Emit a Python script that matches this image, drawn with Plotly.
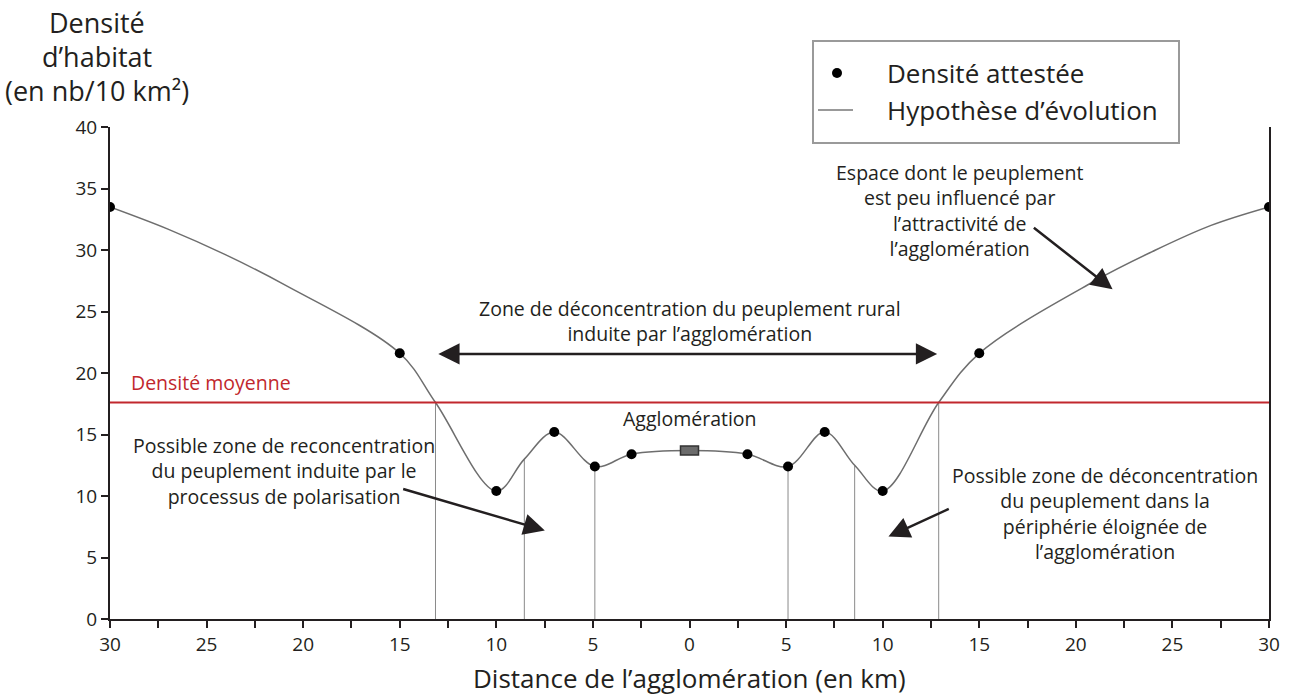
import plotly.graph_objects as go

# densite attestee (points noirs), distance a l'agglomeration en km
dist_km = [-30, -15, -10, -7, -4.9, -3, 3, 5.1, 7, 10, 15, 30]
density = [33.5, 21.6, 10.4, 15.2, 12.4, 13.4, 13.4, 12.4, 15.2, 10.4, 21.6, 33.5]

# l'agglomeration elle-meme (rectangle gris)
agglo_km = 0
agglo_density = 13.7

# limites des zones (traits verticaux depuis l'axe jusqu'a la courbe)
zone_km = [-13.15, -8.55, -4.9, 5.1, 8.55, 12.9]
zone_top = [17.6, 13.0, 12.4, 12.4, 12.5, 17.6]

hypo_km = [-27, -24, -21, 21, 24, 27]
hypo_density = [31.7, 29.6, 27.2, 27.5, 29.9, 32.0]

mean_density = 17.6

x_ticks = [-30, -25, -20, -15, -10, -5, 0, 5, 10, 15, 20, 25, 30]
x_ticktext = [str(abs(v)) for v in x_ticks]
y_ticks = [0, 5, 10, 15, 20, 25, 30, 35, 40]

INK = '#231f20'
RED = '#c1272d'
FONT = 'Open Sans'

# plot area in pixels, used to place the things that sit outside it
L, R, T, B = 110, 1269, 127, 619


def px(x):
    return (x - L) / (R - L)


def py(y):
    return (B - y) / (B - T)


# hypothese d'evolution: courbe lissee passant par tous les points lus
curve = sorted(set(zip(dist_km, density))
               | {(agglo_km, agglo_density)}
               | set(zip(zone_km, zone_top))
               | set(zip(hypo_km, hypo_density)))
curve_x = [p[0] for p in curve]
curve_y = [p[1] for p in curve]

zone_x, zone_y = [], []
for k, top in zip(zone_km, zone_top):
    zone_x += [k, k, None]
    zone_y += [0, top, None]

fig = go.Figure()

fig.add_trace(go.Scatter(x=zone_x, y=zone_y, mode='lines',
                         line=dict(color='#8a8a8a', width=1),
                         hoverinfo='skip', showlegend=False))

fig.add_trace(go.Scatter(x=curve_x, y=curve_y, mode='lines',
                         line=dict(color='#6e6e6e', width=1.5, shape='spline', smoothing=1),
                         name='Hypothèse d’évolution', showlegend=False))

fig.add_trace(go.Scatter(x=dist_km, y=density, mode='markers',
                         marker=dict(color='black', size=10),
                         name='Densité attestée', showlegend=False))

shapes = [
    # densite moyenne
    dict(type='line', xref='paper', yref='y', x0=0, x1=1,
         y0=mean_density, y1=mean_density, line=dict(color=RED, width=2)),
    # rectangle de l'agglomeration
    dict(type='rect', xref='x', yref='y', xsizemode='pixel', ysizemode='pixel',
         xanchor=agglo_km, yanchor=agglo_density, x0=-9, x1=9, y0=-4.5, y1=4.5,
         fillcolor='#6b6b6b', line=dict(color='#333333', width=1.5)),
    # legende
    dict(type='rect', xref='paper', yref='paper', x0=px(813), x1=px(1179),
         y0=py(143), y1=py(41), line=dict(color='#9a9a9a', width=2)),
    dict(type='circle', xref='paper', yref='paper', xsizemode='pixel', ysizemode='pixel',
         xanchor=px(837), yanchor=py(73), x0=-5, x1=5, y0=-5, y1=5,
         fillcolor='black', line=dict(color='black', width=0)),
    dict(type='line', xref='paper', yref='paper', x0=px(818), x1=px(853),
         y0=py(110), y1=py(110), line=dict(color='#777777', width=1.5)),
]


def paper_text(text, x, y, size, xanchor='center'):
    return dict(text=text, xref='paper', yref='paper', x=px(x), y=py(y),
                xanchor=xanchor, yanchor='middle', showarrow=False,
                font=dict(size=size))


annotations = [
    paper_text('Densité attestée', 885, 73, 26, 'left'),
    paper_text('Hypothèse d’évolution', 885, 110, 26, 'left'),
    paper_text('Densité', 97, 22, 27),
    paper_text('d’habitat', 97, 56, 27),
    paper_text('(en nb/10 km²)', 97, 90, 27),
    paper_text('Distance de l’agglomération (en km)', 689.5, 678, 26),
    dict(text='Densité moyenne', x=-29, y=19.25, xanchor='left', yanchor='middle',
         showarrow=False, font=dict(size=19.5, color=RED)),
    dict(text='Agglomération', x=0, y=16.3, showarrow=False, font=dict(size=19.5)),
    dict(text='Zone de déconcentration du peuplement rural<br>induite par l’agglomération',
         x=0, y=24.2, showarrow=False, font=dict(size=19.5)),
    dict(text='Espace dont le peuplement<br>est peu influencé par<br>l’attractivité de<br>l’agglomération',
         x=14.0, y=33.2, showarrow=False, font=dict(size=19.5)),
    dict(text='Possible zone de reconcentration<br>du peuplement induite par le<br>processus de polarisation',
         x=-21.0, y=12.0, showarrow=False, font=dict(size=19.5)),
    dict(text='Possible zone de déconcentration<br>du peuplement dans la<br>périphérie éloignée de<br>l’agglomération',
         x=21.5, y=8.6, showarrow=False, font=dict(size=19.5)),
]

arrow_style = dict(text='', showarrow=True, axref='x', ayref='y', arrowhead=2,
                   arrowsize=1.7, arrowwidth=2.5, arrowcolor=INK, standoff=0)
annotations += [
    dict(x=12.82, y=21.55, ax=-13.08, ay=21.55, arrowside='end+start', **arrow_style),
    dict(x=21.9, y=26.8, ax=17.75, ay=31.9, **arrow_style),
    dict(x=-7.49, y=7.2, ax=-14.9, ay=10.6, **arrow_style),
    dict(x=10.3, y=6.7, ax=13.5, ay=9.0, **arrow_style),
]

fig.update_layout(
    width=1291, height=698,
    margin=dict(l=L, r=1291 - R, t=T, b=698 - B),
    paper_bgcolor='white', plot_bgcolor='white',
    font=dict(family=FONT, color=INK, size=19),
    showlegend=False,
    shapes=shapes,
    annotations=annotations,
)

fig.update_xaxes(range=[-30, 30], tickvals=x_ticks, ticktext=x_ticktext,
                 ticks='outside', ticklen=7, tickwidth=2, tickcolor=INK,
                 showline=True, linewidth=2, linecolor=INK,
                 showgrid=False, zeroline=False, tickfont=dict(size=19),
                 minor=dict(ticks='outside', ticklen=7, tickwidth=2, tickcolor=INK,
                            dtick=2.5, tick0=0, showgrid=False))
fig.update_yaxes(range=[0, 40], tickvals=y_ticks,
                 ticks='outside', ticklen=7, tickwidth=2, tickcolor=INK,
                 showline=True, linewidth=2, linecolor=INK, mirror=True,
                 showgrid=False, zeroline=False, tickfont=dict(size=19))

# the page body has a default 8px margin: drop it so the figure fills the window
fig.write_html('out.html', config={'displayModeBar': False},
               post_script="document.body.style.margin='0';")
